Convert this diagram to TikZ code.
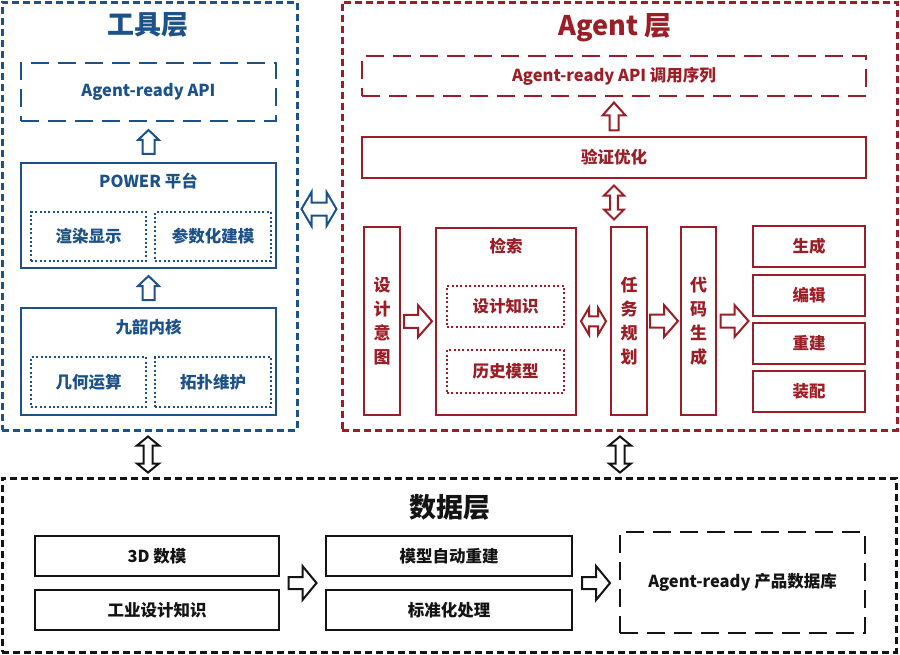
\documentclass[tikz,border=0pt]{standalone}
\usepackage{fontspec}
\setmainfont{Noto Sans CJK SC}
\usetikzlibrary{calc}
\definecolor{tblue}{RGB}{28,82,136}
\definecolor{ared}{RGB}{155,30,38}
\definecolor{dblack}{RGB}{20,20,20}
\tikzset{
  layer/.style={draw, line width=3pt, dash pattern=on 7pt off 4pt, inner sep=0pt},
  solidbox/.style={draw, line width=2.7pt, inner sep=0pt},
  dotbox/.style={draw, line width=2.4pt, dash pattern=on 2pt off 2.4pt, inner sep=0pt},
  longdash/.style={draw, line width=2.6pt, dash pattern=on 18pt off 9pt, inner sep=0pt},
  sz/.style 2 args={minimum width=#1pt, minimum height=#2pt},
  lbl/.style={font=\fontsize{16.5}{20}\selectfont\bfseries},
  vlbl/.style={font=\fontsize{17}{24}\selectfont\bfseries, align=center},
  ttl/.style={font=\fontsize{27}{32}\selectfont\bfseries},
  pics/sarrow/.style n args={4}{code={
    \draw[fill=white, line width=2pt, line join=miter]
      (-#1/2,-#2) -- (#1/2-#4,-#2) -- (#1/2-#4,-#3) -- (#1/2,0) -- (#1/2-#4,#3)
      -- (#1/2-#4,#2) -- (-#1/2,#2) -- cycle;
  }},
  pics/darrow/.style n args={4}{code={
    \draw[fill=white, line width=2pt, line join=miter]
      (-#1/2,0) -- (-#1/2+#4,-#3) -- (-#1/2+#4,-#2) -- (#1/2-#4,-#2) -- (#1/2-#4,-#3)
      -- (#1/2,0) -- (#1/2-#4,#3) -- (#1/2-#4,#2) -- (-#1/2+#4,#2) -- (-#1/2+#4,#3) -- cycle;
  }},
}
\begin{document}
\begin{tikzpicture}[x=1pt,y=-1pt]
\useasboundingbox (0,0) rectangle (900,654);

% ---------------- Tool layer ----------------
\node[layer, tblue, sz={295}{428}] (tool) at (149.5,216) {};
\node[ttl, tblue] (toolT) at (148,25) {工具层};
\node[longdash, tblue, sz={255}{58}, lbl] (apiT) at (148.5,92) {Agent-ready API};
\node[solidbox, tblue, sz={255}{105}] (power) at (148.5,215.5) {};
\node[lbl, tblue] (powerT) at (148.5,181) {POWER 平台};
\node[dotbox, tblue, sz={115}{49}, lbl] (render) at (88.5,236.5) {渲染显示};
\node[dotbox, tblue, sz={116}{49}, lbl] (param) at (213,236.5) {参数化建模};
\node[solidbox, tblue, sz={255}{107}] (kernel) at (148.5,361.5) {};
\node[lbl, tblue] (kernelT) at (148.5,327) {九韶内核};
\node[dotbox, tblue, sz={115}{50}, lbl] (geom) at (88.5,382) {几何运算};
\node[dotbox, tblue, sz={116}{50}, lbl] (topo) at (213,382) {拓扑维护};
\pic[tblue, rotate=90] at ($(apiT.south)!0.5!(power.north)$) {sarrow={24}{6}{10.5}{10}};
\pic[tblue, rotate=90] at ($(power.south)!0.5!(kernel.north)$) {sarrow={24}{6}{10.5}{10}};

% link tool <-> agent
\pic[tblue] at (319,209) {darrow={35}{6.5}{17}{10}};

% ---------------- Agent layer ----------------
\node[layer, ared, sz={555}{428}] (agent) at (619.5,216) {};
\node[ttl, ared] (agentT) at (615,28) {Agent 层};
\node[longdash, ared, sz={504}{40}, lbl] (apiA) at (614,76) {Agent-ready API 调用序列};
\node[solidbox, ared, sz={504}{41}, lbl] (verify) at (614,157.5) {验证优化};
\pic[ared, rotate=90] at ($(apiA.south)!0.5!(verify.north)$) {sarrow={28}{4.5}{11.5}{13}};

\node[solidbox, ared, sz={36}{188}, vlbl] (intent) at (382,321) {设\\计\\意\\图};
\node[solidbox, ared, sz={140}{187}] (search) at (506,321.5) {};
\node[lbl, ared] (searchT) at (506,246) {检索};
\node[dotbox, ared, sz={117}{41}, lbl] (know) at (505.5,306.5) {设计知识};
\node[dotbox, ared, sz={117}{43}, lbl] (hist) at (505.5,371.5) {历史模型};
\node[solidbox, ared, sz={36}{188}, vlbl] (plan) at (629,321) {任\\务\\规\\划};
\node[solidbox, ared, sz={35}{188}, vlbl] (code) at (698.5,321) {代\\码\\生\\成};
\node[solidbox, ared, sz={112}{41}, lbl] (gen) at (809,246.5) {生成};
\node[solidbox, ared, sz={112}{41}, lbl] (edit) at (809,295.5) {编辑};
\node[solidbox, ared, sz={112}{41}, lbl] (rebuild) at (809,343.5) {重建};
\node[solidbox, ared, sz={112}{41}, lbl] (assemble) at (809,391.5) {装配};

\pic[ared, rotate=90] at ($(verify.south)!0.5!(verify.south |- plan.north)$) {darrow={34}{3.8}{10}{10}};
\pic[ared] at ($(intent.east)!0.5!(search.west)$) {sarrow={28}{6.5}{16}{14}};
\pic[ared] at ($(search.east)!0.5!(plan.west)$) {darrow={25}{5}{13.5}{8}};
\pic[ared] at ($(plan.east)!0.5!(code.west)$) {sarrow={28}{6.5}{16}{14}};
\pic[ared] at ($(code.east)!0.5!(code.east -| gen.west)$) {sarrow={28}{6.5}{16}{14}};

% ---------------- Data layer ----------------
\node[layer, dblack, sz={894}{174}] (data) at (449,565) {};
\node[ttl, dblack] (dataT) at (450,507) {数据层};
\node[solidbox, dblack, sz={244}{40}, lbl] (d3) at (157,556) {3D 数模};
\node[solidbox, dblack, sz={244}{40}, lbl] (ind) at (157,610) {工业设计知识};
\node[solidbox, dblack, sz={246}{40}, lbl] (auto) at (449,556) {模型自动重建};
\node[solidbox, dblack, sz={246}{40}, lbl] (std) at (449,610) {标准化处理};
\node[longdash, dblack, sz={245}{101}, lbl] (db) at (742.5,582.5) {Agent-ready 产品数据库};
\coordinate (m1) at ($(d3.south east)!0.5!(ind.north east)$);
\coordinate (m2) at ($(auto.south west)!0.5!(std.north west)$);
\coordinate (m3) at ($(auto.south east)!0.5!(std.north east)$);
\pic[dblack] at ($(m1)!0.5!(m2)$) {sarrow={28}{6}{17}{14}};
\pic[dblack] at ($(m3)!0.5!(m3 -| db.west)$) {sarrow={28}{6}{17}{14}};

% links to data layer
\pic[dblack, rotate=90] at (148,454.5) {darrow={36}{4.5}{11}{9}};
\pic[dblack, rotate=90] at (620,454.5) {darrow={36}{4.5}{11}{9}};
\end{tikzpicture}
\end{document}
